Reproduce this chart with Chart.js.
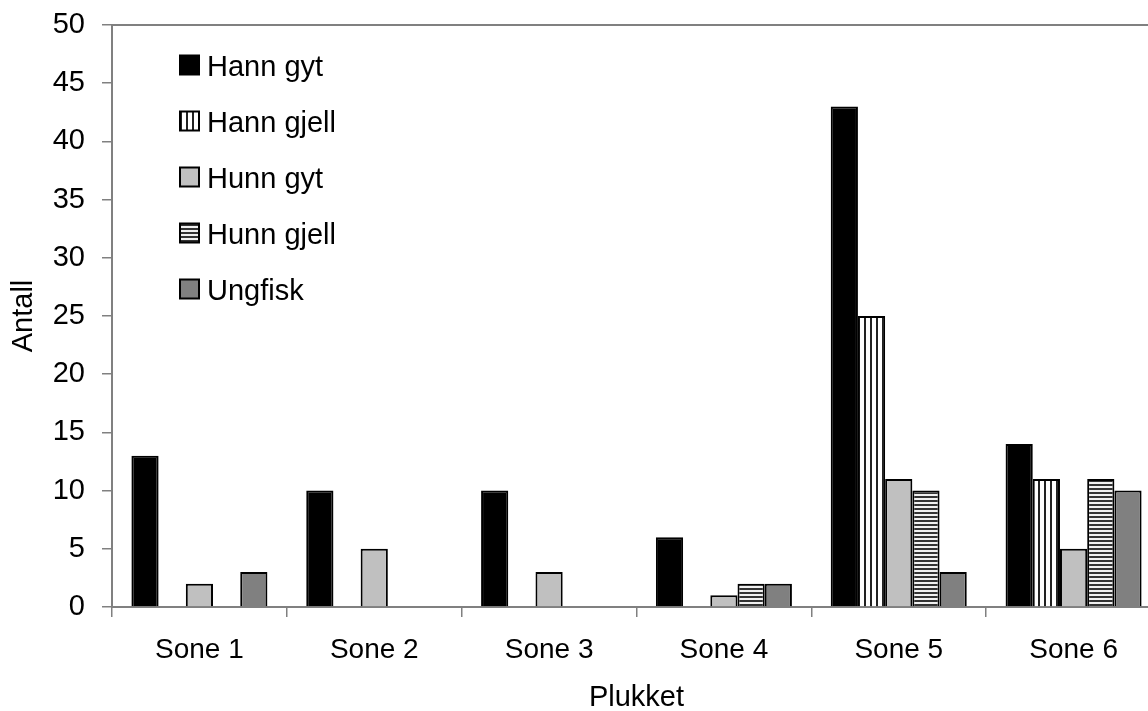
<!DOCTYPE html>
<html>
<head>
<meta charset="utf-8">
<title>Plukket</title>
<script src="https://cdn.jsdelivr.net/npm/chart.js@4/dist/chart.umd.min.js"></script>
<style>
  html, body { margin: 0; padding: 0; background: #fff; overflow: hidden; }
  #wrap { width: 1180px; height: 711px; position: relative; }
</style>
</head>
<body>
<div id="wrap"><canvas id="chart"></canvas></div>
<script>
// Data
const categories = ['Sone 1', 'Sone 2', 'Sone 3', 'Sone 4', 'Sone 5', 'Sone 6'];
const seriesNames = ['Hann gyt', 'Hann gjell', 'Hunn gyt', 'Hunn gjell', 'Ungfisk'];
const hannGyt   = [13, 10, 10, 6, 43, 14];
const hannGjell = [0, 0, 0, 0, 25, 11];
const hunnGyt   = [2, 5, 3, 1, 11, 5];
const hunnGjell = [0, 0, 0, 2, 10, 11];
const ungfisk   = [3, 0, 0, 2, 3, 10];
const yMin = 0;
const yMax = 50;
const yStep = 5;
const xTitle = 'Plukket';
const yTitle = 'Antall';

const FONT = '"Liberation Sans", Arial, sans-serif';
const AXIS_GREY = '#808080';

// Fill patterns like the old spreadsheet chart
function stripePattern(vertical) {
  const c = document.createElement('canvas');
  const ctx = c.getContext('2d');
  if (vertical) {
    c.width = 6; c.height = 6;
    ctx.fillStyle = '#ffffff';
    ctx.fillRect(0, 0, 6, 6);
    ctx.fillStyle = '#222222';
    ctx.fillRect(0, 0, 2, 6);
  } else {
    c.width = 4; c.height = 4;
    ctx.fillStyle = '#f0f0f0';
    ctx.fillRect(0, 0, 4, 4);
    ctx.fillStyle = '#333333';
    ctx.fillRect(0, 0, 4, 2);
  }
  return ctx.createPattern(c, 'repeat');
}

const fills = ['#000000', stripePattern(true), '#c0c0c0', stripePattern(false), '#808080'];
const values = [hannGyt, hannGjell, hunnGyt, hunnGjell, ungfisk];

// Legend drawn inside the plot area, top left
const LEGEND = { x: 180, firstY: 65, step: 56, box: 19, gap: 8 };

const insideLegend = {
  id: 'insideLegend',
  afterDraw(chart) {
    const ctx = chart.ctx;
    ctx.save();
    chart.data.datasets.forEach((ds, i) => {
      const cy = LEGEND.firstY + i * LEGEND.step;
      const top = cy - LEGEND.box / 2;
      ctx.fillStyle = ds.backgroundColor;
      ctx.fillRect(LEGEND.x, top, LEGEND.box, LEGEND.box);
      ctx.strokeStyle = '#000';
      ctx.lineWidth = 2;
      ctx.strokeRect(LEGEND.x, top, LEGEND.box, LEGEND.box);
      ctx.fillStyle = '#000';
      ctx.font = '29px ' + FONT;
      ctx.textAlign = 'left';
      ctx.textBaseline = 'middle';
      ctx.fillText(ds.label, LEGEND.x + LEGEND.box + LEGEND.gap, cy + 3);
    });
    ctx.restore();
  }
};

// Top border of the plot area
const topBorder = {
  id: 'topBorder',
  afterDraw(chart) {
    const { ctx, chartArea } = chart;
    ctx.save();
    ctx.strokeStyle = AXIS_GREY;
    ctx.lineWidth = 2;
    ctx.beginPath();
    ctx.moveTo(chartArea.left, chartArea.top);
    ctx.lineTo(chartArea.right, chartArea.top);
    ctx.stroke();
    ctx.restore();
  }
};

const datasets = seriesNames.map((name, i) => ({
  label: name,
  data: values[i],
  backgroundColor: fills[i],
  borderColor: '#000000',
  borderWidth: 2,
  categoryPercentage: 0.778,
  barPercentage: 1.0,
}));

new Chart(document.getElementById('chart'), {
  type: 'bar',
  data: { labels: categories, datasets },
  plugins: [insideLegend, topBorder],
  options: {
    responsive: true,
    maintainAspectRatio: false,
    animation: false,
    layout: { padding: { top: 25, right: 19, left: 0, bottom: 0 } },
    plugins: {
      legend: { display: false },
      tooltip: { enabled: false },
    },
    scales: {
      x: {
        afterFit: (scale) => {
          scale.height = 104;
          scale.paddingLeft = 0;
          scale.paddingRight = 0;
        },
        grid: {
          offset: true,
          drawOnChartArea: false,
          drawTicks: true,
          tickLength: 10,
          color: AXIS_GREY,
          lineWidth: 1.5,
        },
        border: { color: AXIS_GREY, width: 2 },
        ticks: {
          color: '#000',
          padding: 16,
          font: { family: FONT, size: 28 },
        },
        title: {
          display: true,
          text: xTitle,
          color: '#000',
          font: { family: FONT, size: 29, lineHeight: 1 },
          padding: { top: 0, bottom: -1 },
        },
      },
      y: {
        min: yMin,
        max: yMax,
        afterFit: (scale) => {
          scale.width = 112;
          scale.paddingTop = 0;
          scale.paddingBottom = 0;
        },
        grid: {
          drawOnChartArea: false,
          drawTicks: true,
          tickLength: 10,
          color: AXIS_GREY,
          lineWidth: 1.5,
        },
        border: { color: AXIS_GREY, width: 2 },
        ticks: {
          stepSize: yStep,
          color: '#000',
          padding: 17,
          font: { family: FONT, size: 29 },
        },
        title: {
          display: true,
          text: yTitle,
          color: '#000',
          font: { family: FONT, size: 29, lineHeight: 1 },
          padding: { top: 9, bottom: 0 },
        },
      },
    },
  },
});
</script>
</body>
</html>
